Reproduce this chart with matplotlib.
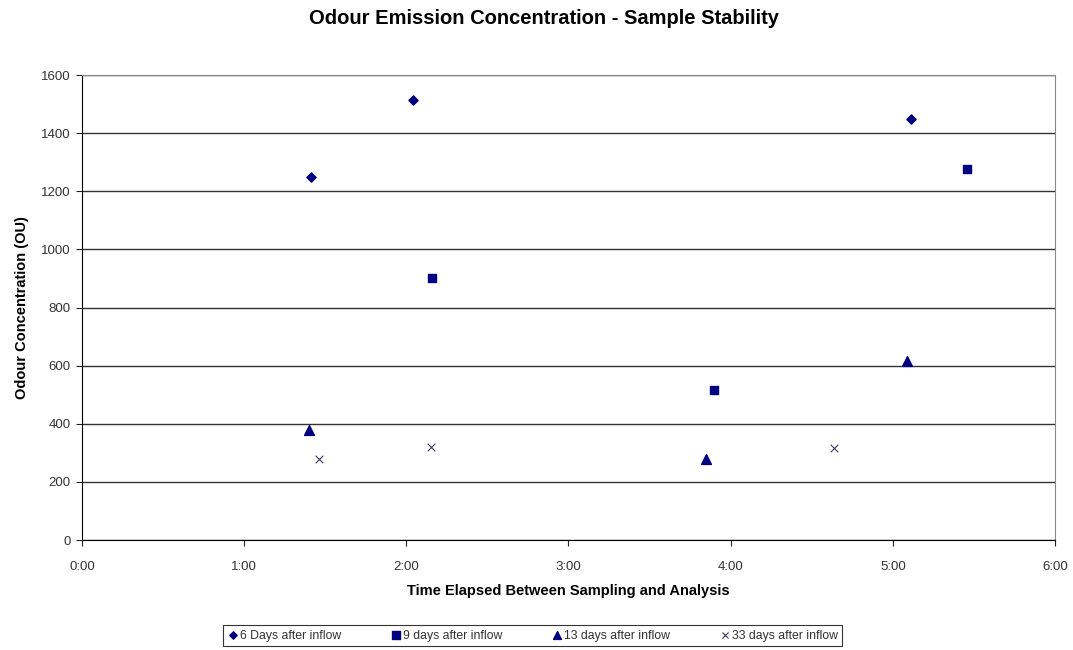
import matplotlib
matplotlib.use("Agg")
import matplotlib.pyplot as plt
from matplotlib.ticker import FuncFormatter, MultipleLocator

plt.rcParams['font.family'] = ['Liberation Sans', 'DejaVu Sans']

# time elapsed in hours, odour concentration in OU
days6_t = [1.41, 2.04, 5.11]
days6_ou = [1250, 1515, 1450]
days9_t = [2.16, 3.90, 5.46]
days9_ou = [900, 515, 1275]
days13_t = [1.40, 3.85, 5.09]
days13_ou = [380, 280, 615]
days33_t = [1.46, 2.15, 4.64]
days33_ou = [280, 320, 315]

navy = '#000080'

fig = plt.figure(figsize=(10.73, 6.5), dpi=100)
ax = fig.add_axes([0.0764, 0.1692, 0.9068, 0.7154])

ax.scatter(days6_t, days6_ou, marker='D', s=22, color=navy, label='6 Days after inflow', zorder=3)
ax.scatter(days9_t, days9_ou, marker='s', s=40, color=navy, label='9 days after inflow', zorder=3)
ax.scatter(days13_t, days13_ou, marker='^', s=50, color=navy, label='13 days after inflow', zorder=3)
ax.scatter(days33_t, days33_ou, marker='x', s=30, color='#3a3a6a', linewidths=0.8,
           label='33 days after inflow', zorder=3)

ax.set_xlim(0, 6)
ax.set_ylim(0, 1600)
ax.xaxis.set_major_locator(MultipleLocator(1))
ax.yaxis.set_major_locator(MultipleLocator(200))
ax.xaxis.set_major_formatter(FuncFormatter(lambda h, p: '%d:%02d' % (int(h), int(round((h % 1) * 60)))))
ax.yaxis.grid(True, color='#333333', linewidth=1.0)
ax.set_axisbelow(True)
ax.tick_params(labelsize=9.5, length=4, colors='#222222', labelcolor='#333333')
ax.tick_params(axis='x', pad=11)
ax.tick_params(axis='y', pad=4)

for s in ['top', 'right']:
    ax.spines[s].set_color('#888888')
for s in ['left', 'bottom']:
    ax.spines[s].set_color('black')

ax.set_xlabel('Time Elapsed Between Sampling and Analysis', fontsize=10.5, fontweight='bold', labelpad=8)
ax.set_ylabel('Odour Concentration (OU)', fontsize=10.5, fontweight='bold', labelpad=9)
fig.text(0.507, 0.971, 'Odour Emission Concentration - Sample Stability', ha='center', va='center',
         fontsize=14.5, fontweight='bold')

leg = fig.legend(loc='lower center', bbox_to_anchor=(0.496, -0.003), ncol=4, fontsize=8.8,
                 frameon=True, fancybox=False, edgecolor='black', handletextpad=0.05,
                 columnspacing=4.0, borderpad=0.35, handlelength=1.0, markerscale=0.8)
leg.get_frame().set_linewidth(0.8)
for t in leg.get_texts():
    t.set_color('#333333')

fig.savefig('out.png', dpi=100)
